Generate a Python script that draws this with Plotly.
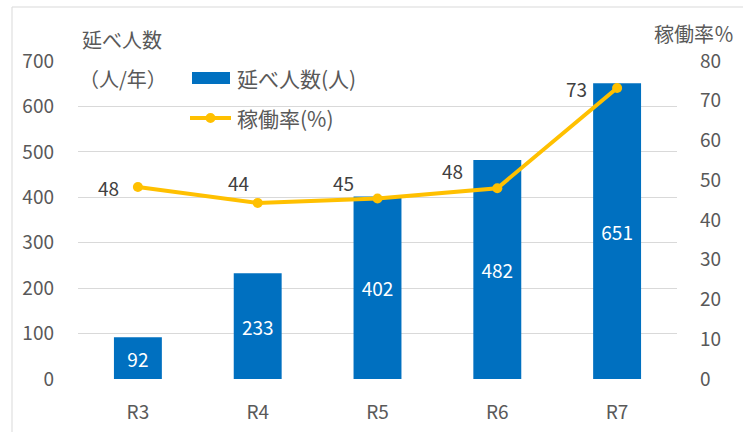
import plotly.graph_objects as go

categories = ["R3", "R4", "R5", "R6", "R7"]
persons = [92, 233, 402, 482, 651]
rate = [48.3, 44.3, 45.4, 48.0, 73.2]
left_ticks = [0, 100, 200, 300, 400, 500, 600, 700]
right_ticks = [0, 10, 20, 30, 40, 50, 60, 70, 80]
series_names = ["延べ人数(人)", "稼働率(%)"]

# label offsets (px) for the rate data labels
rate_xshift = [-29, -19, -34, -45, -41]
rate_yshift = [0, 20, 16, 18, 0]

FONT = "Noto Sans CJK JP, Noto Sans, sans-serif"
GRAY = "#595959"
BLUE = "#0070C0"
GOLD = "#FFC000"

L, R, T, B = 78, 66, 61, 53
W, H = 743, 432
pw, ph = W - L - R, H - T - B


def px(x):
    return (x - L) / pw


def py(y):
    return (H - B - y) / ph


fig = go.Figure()
fig.add_trace(go.Bar(
    x=categories, y=persons, name=series_names[0],
    marker=dict(color=BLUE, line=dict(width=0)),
    text=[str(v) for v in persons], textposition="inside",
    insidetextanchor="middle",
    textfont=dict(color="white", size=19, family=FONT),
    yaxis="y", width=0.4, hoverinfo="skip",
))
fig.add_trace(go.Scatter(
    x=categories, y=rate, name=series_names[1], yaxis="y2",
    mode="lines+markers",
    line=dict(color=GOLD, width=4),
    marker=dict(color=GOLD, size=10), hoverinfo="skip",
))

annotations = []
for c, v, dx, dy in zip(categories, rate, rate_xshift, rate_yshift):
    annotations.append(dict(
        x=c, y=v, xref="x", yref="y2", text=f"{v:.0f}", showarrow=False,
        xshift=dx, yshift=dy, font=dict(size=19, color="#404040", family=FONT),
    ))

titles = [("延べ人数", 122, 39), ("（人/年）", 123, 78), ("稼働率％", 694, 33)]
for t, x, y in titles:
    annotations.append(dict(
        x=px(x), y=py(y), xref="paper", yref="paper", text=t, showarrow=False,
        xanchor="center", yanchor="middle",
        font=dict(size=20, color=GRAY, family=FONT),
    ))
# legend texts
for t, y in zip(series_names, [78, 118]):
    annotations.append(dict(
        x=px(235), y=py(y), xref="paper", yref="paper", text=t, showarrow=False,
        xanchor="left", yanchor="middle",
        font=dict(size=21, color=GRAY, family=FONT),
    ))

shapes = [
    dict(type="rect", xref="paper", yref="paper",
         x0=px(12), x1=px(760), y0=py(440), y1=py(7),
         line=dict(color="#D9D9D9", width=1), fillcolor="rgba(0,0,0,0)",
         layer="below"),
    # legend symbols
    dict(type="rect", xref="paper", yref="paper",
         x0=px(192), x1=px(230), y0=py(84), y1=py(72),
         line=dict(width=0), fillcolor=BLUE),
    dict(type="line", xref="paper", yref="paper",
         x0=px(190), x1=px(231), y0=py(118), y1=py(118),
         line=dict(color=GOLD, width=4)),
    dict(type="circle", xref="paper", yref="paper",
         x0=px(205.5), x1=px(215.5), y0=py(123), y1=py(113),
         line=dict(width=0), fillcolor=GOLD),
]

fig.update_layout(
    width=W, height=H,
    margin=dict(l=L, r=R, t=T, b=B, autoexpand=False),
    paper_bgcolor="white", plot_bgcolor="white",
    font=dict(family=FONT, color=GRAY, size=18),
    bargap=0.6,
    showlegend=False,
    hovermode=False,
    xaxis=dict(
        showgrid=False, showline=False, ticks="", zeroline=False,
        tickfont=dict(size=19, color=GRAY), automargin=False,
        ticklabelstandoff=20,
    ),
    yaxis=dict(
        range=[0, 700], tickvals=left_ticks, showgrid=True, gridcolor="#D9D9D9",
        gridwidth=1, zeroline=False, showline=False, ticks="",
        tickfont=dict(size=19, color=GRAY), ticklabelstandoff=23,
        automargin=False,
    ),
    yaxis2=dict(
        range=[0, 80], tickvals=right_ticks, overlaying="y", side="right",
        showgrid=False, zeroline=False, showline=False, ticks="",
        tickfont=dict(size=19, color=GRAY), ticklabelstandoff=22,
        automargin=False,
    ),
    annotations=annotations,
    shapes=shapes,
)

fig.write_html(
    "out.html",
    config={"displayModeBar": False},
    post_script="document.body.style.margin='0';document.body.style.overflow='hidden';",
)
